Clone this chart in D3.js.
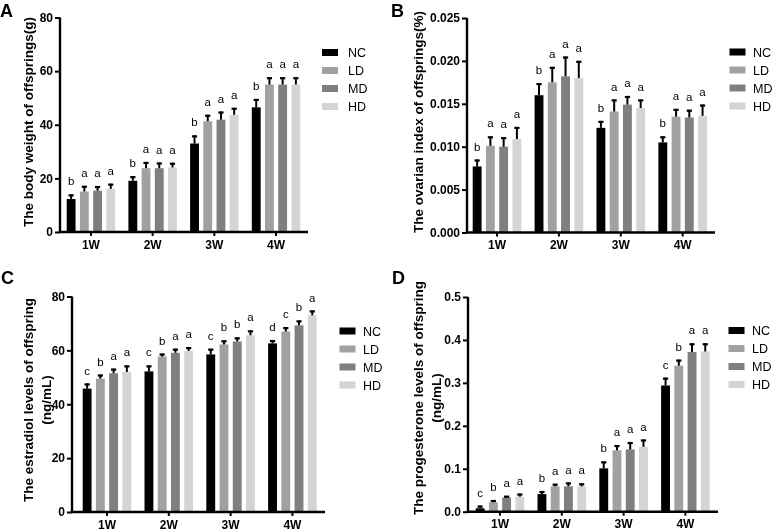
<!DOCTYPE html>
<html>
<head>
<meta charset="utf-8">
<script src="https://cdn.jsdelivr.net/npm/d3@7"></script>
<style>
  html, body { margin: 0; padding: 0; background: #fff; }
  svg { display: block; font-family: "Liberation Sans", Arial, sans-serif; will-change: transform; }
</style>
</head>
<body>
<svg id="chart" width="777" height="531"></svg>
<script>
// ---------------- DATA ----------------
const weeks = ["1W", "2W", "3W", "4W"];
const groups = ["NC", "LD", "MD", "HD"];
const groupColors = ["#000000", "#a1a1a3", "#7f7f7f", "#d4d4d4"];

// A: body weight (g) — rows NC, LD, MD, HD; columns 1W..4W
const weightMean = [
  [12.3, 19.1, 33.0, 46.5],
  [15.1, 23.8, 41.3, 55.0],
  [15.4, 23.8, 41.9, 55.0],
  [16.1, 24.1, 43.7, 55.0]
];
const weightSD = [
  [1.7, 1.7, 3.0, 3.1],
  [2.1, 2.3, 2.4, 2.7],
  [1.7, 2.1, 3.0, 2.7],
  [1.9, 1.7, 2.6, 2.7]
];
const weightLetters = [
  ["b", "b", "b", "b"],
  ["a", "a", "a", "a"],
  ["a", "a", "a", "a"],
  ["a", "a", "a", "a"]
];
const weightTicks = [0, 20, 40, 60, 80];

// B: ovarian index (%)
const ovaryMean = [
  [0.0077, 0.0160, 0.0122, 0.0105],
  [0.0101, 0.0175, 0.0141, 0.0135],
  [0.0100, 0.0182, 0.0149, 0.0134],
  [0.0109, 0.0180, 0.0145, 0.0136]
];
const ovarySD = [
  [0.0008, 0.0014, 0.0008, 0.0007],
  [0.0011, 0.0018, 0.0014, 0.0009],
  [0.0011, 0.0023, 0.0010, 0.0009],
  [0.0014, 0.0020, 0.0010, 0.0013]
];
const ovaryLetters = [
  ["b", "b", "b", "b"],
  ["a", "a", "a", "a"],
  ["a", "a", "a", "a"],
  ["a", "a", "a", "a"]
];
const ovaryTicks = [0, 0.005, 0.010, 0.015, 0.020, 0.025];

// C: estradiol (ng/mL)
const estradiolMean = [
  [45.8, 52.2, 58.5, 62.6],
  [49.5, 57.7, 62.2, 67.0],
  [51.5, 59.1, 63.3, 69.3],
  [52.0, 59.8, 65.6, 73.0]
];
const estradiolSD = [
  [1.9, 2.2, 2.1, 1.2],
  [1.5, 1.1, 1.5, 1.6],
  [1.7, 1.5, 1.5, 1.8],
  [2.4, 1.4, 1.8, 1.8]
];
const estradiolLetters = [
  ["c", "c", "c", "d"],
  ["b", "b", "b", "c"],
  ["a", "a", "b", "b"],
  ["a", "a", "a", "a"]
];
const estradiolTicks = [0, 20, 40, 60, 80];

// D: progesterone (ng/mL)
const progMean = [
  [0.008, 0.041, 0.101, 0.294],
  [0.022, 0.059, 0.143, 0.340],
  [0.033, 0.059, 0.145, 0.372],
  [0.035, 0.059, 0.151, 0.373]
];
const progSD = [
  [0.006, 0.007, 0.016, 0.018],
  [0.005, 0.006, 0.012, 0.014],
  [0.004, 0.009, 0.017, 0.020],
  [0.007, 0.007, 0.017, 0.019]
];
const progLetters = [
  ["c", "b", "b", "c"],
  ["b", "a", "a", "b"],
  ["a", "a", "a", "a"],
  ["a", "a", "a", "a"]
];
const progTicks = [0, 0.1, 0.2, 0.3, 0.4, 0.5];

// ---------------- LAYOUT ----------------
const panels = [
  { tag: "A", mean: weightMean, sd: weightSD, letters: weightLetters, ticks: weightTicks, fmt: d3.format("d"),
    title: ["The body weight of offsprings(g)"],
    tagX: 0, tagY: 17, axisX: 60, axisEnd: 308, bandL: 66.7, bandR: 300.3, yBot: 232, yTop: 17.5,
    titleX: [33], titleY: 122, legX: 322, legY: 52.5, legTextX: 348 },
  { tag: "B", mean: ovaryMean, sd: ovarySD, letters: ovaryLetters, ticks: ovaryTicks, fmt: d3.format(".3f"),
    title: ["The ovarian index of offsprings(%)"],
    tagX: 391, tagY: 17, axisX: 467, axisEnd: 715, bandL: 472.7, bandR: 707, yBot: 232.5, yTop: 18,
    titleX: [423], titleY: 122, legX: 729.5, legY: 52, legTextX: 753 },
  { tag: "C", mean: estradiolMean, sd: estradiolSD, letters: estradiolLetters, ticks: estradiolTicks, fmt: d3.format("d"),
    title: ["The estradiol levels of offspring", "(ng/mL)"],
    tagX: 1, tagY: 284, axisX: 72, axisEnd: 325, bandL: 82.7, bandR: 316.7, yBot: 512, yTop: 296.5,
    titleX: [33, 51], titleY: 400, legX: 339.5, legY: 331, legTextX: 363 },
  { tag: "D", mean: progMean, sd: progSD, letters: progLetters, ticks: progTicks, fmt: d3.format(".1f"),
    title: ["The progesterone levels of offspring", "(ng/mL)"],
    tagX: 392, tagY: 284, axisX: 468, axisEnd: 718, bandL: 475.7, bandR: 709.7, yBot: 511.7, yTop: 297,
    titleX: [423, 441], titleY: 398, legX: 728.5, legY: 330.5, legTextX: 752 }
];

const svg = d3.select("#chart");

panels.forEach(p => {
  const g = svg.append("g");
  const maxTick = p.ticks[p.ticks.length - 1];
  const y = d3.scaleLinear().domain([0, maxTick]).range([p.yBot, p.yTop]);
  const x = d3.scaleBand().domain(weeks).range([p.bandL, p.bandR]).paddingInner(0.214).paddingOuter(0);
  const xi = d3.scaleBand().domain(groups).range([0, x.bandwidth()]).paddingInner(0.33).paddingOuter(0);

  // bars
  groups.forEach((grp, gi) => {
    weeks.forEach((wk, wi) => {
      const v = p.mean[gi][wi];
      const e = v + p.sd[gi][wi];
      const bx = x(wk) + xi(grp);
      const bw = xi.bandwidth();
      g.append("rect")
        .attr("x", bx).attr("y", y(v))
        .attr("width", bw).attr("height", y(0) - y(v))
        .attr("fill", groupColors[gi]);
      const cx = bx + bw / 2;
      g.append("line")
        .attr("x1", cx).attr("x2", cx)
        .attr("y1", y(v)).attr("y2", y(e))
        .attr("stroke", "#000").attr("stroke-width", 2);
      g.append("line")
        .attr("x1", cx - 2.6).attr("x2", cx + 2.6)
        .attr("y1", y(e) + 0.9).attr("y2", y(e) + 0.9)
        .attr("stroke", "#000").attr("stroke-width", 2.2);
      g.append("text")
        .attr("x", cx).attr("y", y(e) - 9)
        .attr("text-anchor", "middle")
        .attr("font-size", 11.5)
        .attr("fill", "#000")
        .text(p.letters[gi][wi]);
    });
  });

  // y axis
  const yAxis = d3.axisLeft(y).tickValues(p.ticks).tickFormat(p.fmt).tickSize(5).tickPadding(2);
  const ya = g.append("g").attr("transform", `translate(${p.axisX},0)`).call(yAxis);
  ya.select(".domain").attr("stroke-width", 2.4).attr("d", `M0,${y(maxTick)}V${y(0)}`);
  ya.selectAll(".tick line").attr("stroke-width", 2);
  ya.selectAll(".tick text").attr("font-size", 12).attr("font-weight", "bold")
    .attr("font-family", "'Liberation Sans', Arial, sans-serif").attr("fill", "#000");

  // x axis
  const xAxis = d3.axisBottom(x).tickSize(4).tickPadding(4);
  const xa = g.append("g").attr("transform", `translate(0,${p.yBot})`).call(xAxis);
  xa.select(".domain").attr("stroke-width", 2.4).attr("d", `M${p.axisX - 1.2},0H${p.axisEnd}`);
  xa.selectAll(".tick line").attr("stroke-width", 2);
  xa.selectAll(".tick text").attr("font-size", 12).attr("font-weight", "bold")
    .attr("font-family", "'Liberation Sans', Arial, sans-serif").attr("fill", "#000");

  // y title
  p.title.forEach((t, ti) => {
    g.append("text")
      .attr("transform", `translate(${p.titleX[ti]},${p.titleY}) rotate(-90)`)
      .attr("text-anchor", "middle")
      .attr("font-size", 13.5)
      .attr("font-weight", "bold")
      .attr("fill", "#000")
      .text(t);
  });

  // panel tag
  g.append("text")
    .attr("x", p.tagX).attr("y", p.tagY)
    .attr("font-size", 18).attr("font-weight", "bold").attr("fill", "#000")
    .text(p.tag);

  // legend
  groups.forEach((grp, gi) => {
    const ly = p.legY + gi * 18;
    g.append("rect")
      .attr("x", p.legX).attr("y", ly - 3.5)
      .attr("width", 16).attr("height", 7)
      .attr("fill", groupColors[gi]);
    g.append("text")
      .attr("x", p.legTextX).attr("y", ly + 4.5)
      .attr("font-size", 12.5).attr("fill", "#000")
      .text(grp);
  });
});
</script>
</body>
</html>
